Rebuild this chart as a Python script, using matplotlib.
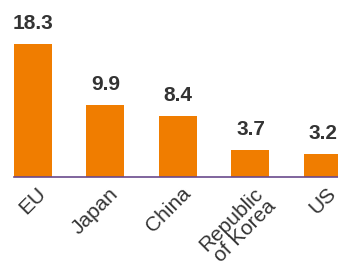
import matplotlib.pyplot as plt
import matplotlib.transforms as mtransforms
import numpy as np

# --- data ---
REGIONS = ["EU", "Japan", "China", "Republic\nof Korea", "US"]
VALUES = [18.3, 9.9, 8.4, 3.7, 3.2]

BAR_COLOR = "#f07d00"
TEXT_COLOR = "#333333"
AXIS_COLOR = "#6a4a8c"

plt.rcParams['font.family'] = ['Liberation Sans', 'DejaVu Sans']

fig = plt.figure(figsize=(3.38, 2.64), dpi=100)
ax = fig.add_axes([14 / 338, 87 / 264, 324 / 338, 177 / 264])

x = np.arange(len(REGIONS))
w = 0.524
ax.bar(x, VALUES, w, color=BAR_COLOR, zorder=2)

for xi, v in zip(x, VALUES):
    ax.annotate(f"{v:.1f}", (xi, v), xytext=(0, 8), textcoords="offset points",
                ha="center", va="bottom", fontsize=15, fontweight="bold",
                color=TEXT_COLOR)

ax.set_xlim(-w / 2, 4.207)
ax.set_ylim(0, 24.35)

for s in ["top", "right", "left"]:
    ax.spines[s].set_visible(False)
ax.spines["bottom"].set_color(AXIS_COLOR)
ax.spines["bottom"].set_linewidth(1.2)
ax.spines["bottom"].set_zorder(3)

ax.set_yticks([])
ax.set_xticks(x)
ax.set_xticklabels(REGIONS, rotation=45, ha="right", rotation_mode="anchor",
                   fontsize=15, color=TEXT_COLOR, linespacing=0.95)
ax.tick_params(axis="x", length=0, pad=5)

# shift tick labels to the right, like the reference
offset = mtransforms.ScaledTranslation(3 / 100, 0, fig.dpi_scale_trans)
for lab in ax.get_xticklabels():
    lab.set_transform(lab.get_transform() + offset)

fig.savefig("out.png", dpi=100)
